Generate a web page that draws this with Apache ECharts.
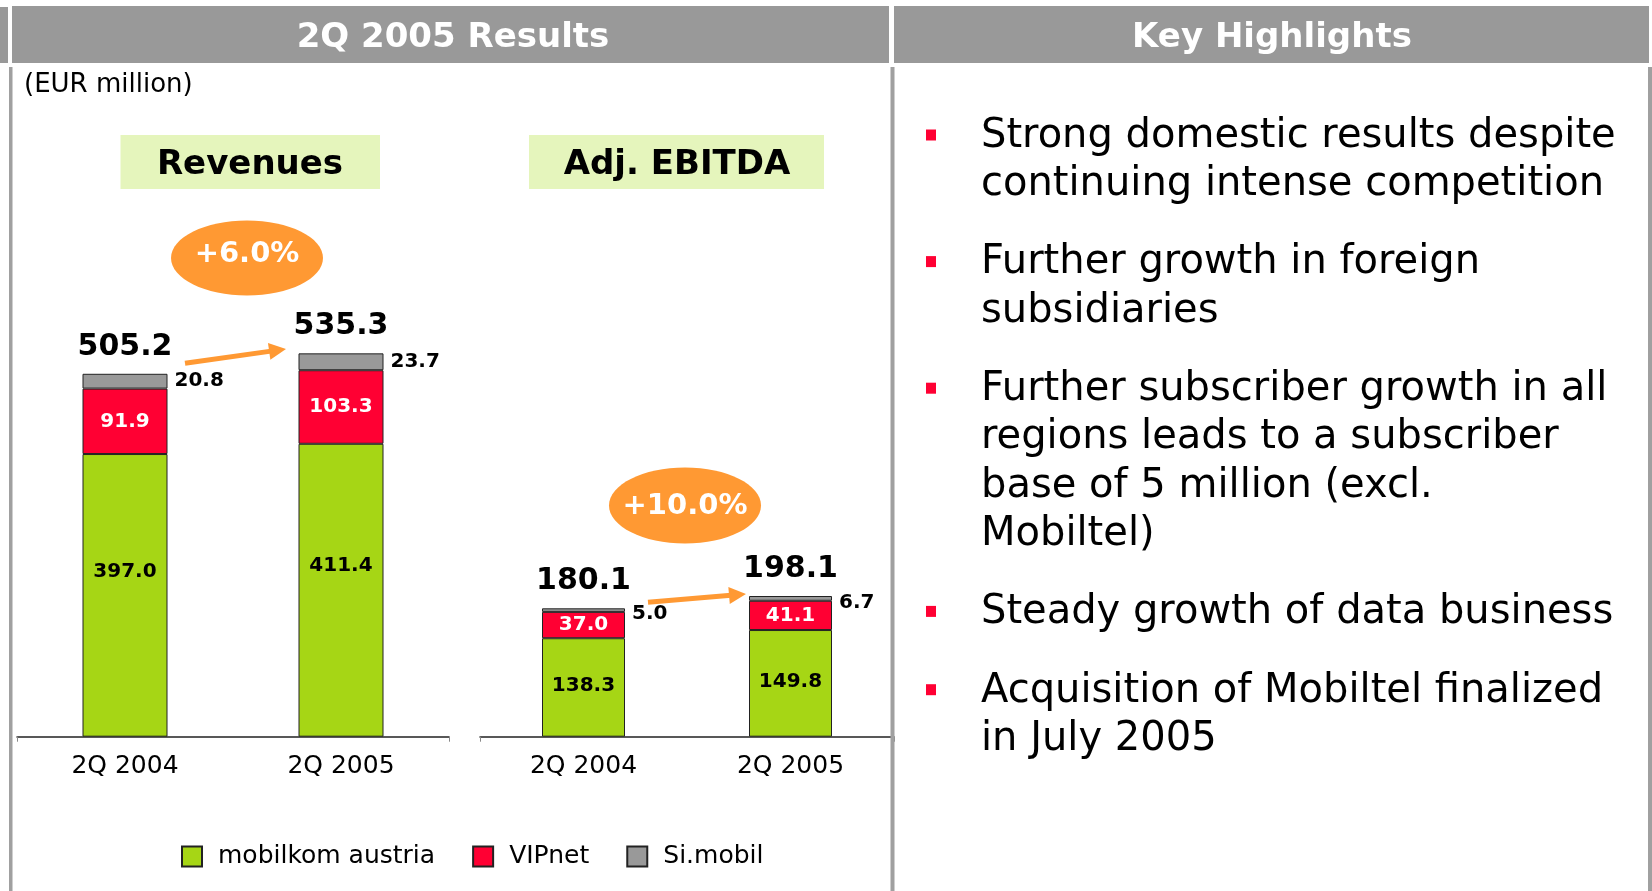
<!DOCTYPE html>
<html>
<head>
<meta charset="utf-8">
<title>2Q 2005 Results</title>
<script src="https://cdn.jsdelivr.net/npm/echarts@6/dist/echarts.min.js"></script>
<style>
  html, body { margin: 0; padding: 0; background: #fff; }
  #chart { width: 1652px; height: 891px; }
</style>
</head>
<body>
<div id="chart"></div>
<script>
// data
var quarters = ['2Q 2004', '2Q 2005']
var seriesNames = ['mobilkom austria', 'VIPnet', 'Si.mobil']

var revMobilkom = [397.0, 411.4]
var revVipnet = [91.9, 103.3]
var revSimobil = [20.8, 23.7]
var revTotal = [505.2, 535.3]

var ebitdaMobilkom = [138.3, 149.8]
var ebitdaVipnet = [37.0, 41.1]
var ebitdaSimobil = [5.0, 6.7]
var ebitdaTotal = [180.1, 198.1]

var highlights = [
  ['Strong domestic results despite', 'continuing intense competition'],
  ['Further growth in foreign', 'subsidiaries'],
  ['Further subscriber growth in all', 'regions leads to a subscriber', 'base of 5 million (excl.', 'Mobiltel)'],
  ['Steady growth of data business'],
  ['Acquisition of Mobiltel finalized', 'in July 2005']
]

var FONT = 'DejaVu Sans'
var GREEN = '#A6D615'
var RED = '#FF0033'
var GREY = '#999999'
var ORANGE = '#FF9933'

function stackTop(a, b, c) {
  return a.map(function (v, i) { return v + b[i] + c[i] })
}

function stackSeries(gridIdx, vals, names, barWidth, greenOffset, greyOffset, totals) {
  var out = []
  var colors = [GREEN, RED, GREY]
  vals.forEach(function (v, k) {
    var label
    if (k === 0) {
      label = { show: true, position: 'inside', offset: greenOffset, color: '#000', fontFamily: FONT, fontWeight: 'bold', fontSize: 20,
        formatter: function (p) { return p.value.toFixed(1) } }
    } else if (k === 1) {
      label = { show: true, position: 'inside', color: '#fff', fontFamily: FONT, fontWeight: 'bold', fontSize: 20,
        formatter: function (p) { return p.value.toFixed(1) } }
    } else {
      label = { show: true, position: 'right', distance: 7, offset: greyOffset, color: '#000', fontFamily: FONT, fontWeight: 'bold', fontSize: 20,
        formatter: function (p) { return p.value.toFixed(1) } }
    }
    out.push({
      name: names[k],
      type: 'bar',
      stack: 'g' + gridIdx,
      xAxisIndex: gridIdx,
      yAxisIndex: gridIdx,
      barWidth: barWidth,
      data: v,
      itemStyle: { color: colors[k], borderColor: '#222', borderWidth: 1 },
      label: label,
      emphasis: { disabled: true },
      silent: true
    })
  })
  // totals above the stacks
  var tops = stackTop(vals[0], vals[1], vals[2])
  out.push({
    type: 'scatter',
    xAxisIndex: gridIdx,
    yAxisIndex: gridIdx,
    symbolSize: 0,
    data: tops,
    itemStyle: { opacity: 1 },
    label: {
      show: true, position: 'top', distance: 12, color: '#000',
      fontFamily: FONT, fontWeight: 'bold', fontSize: 30,
      formatter: function (p) { return totals[p.dataIndex].toFixed(1) }
    },
    silent: true
  })
  return out
}

function arrow(x1, y1, x2, y2) {
  var dx = x2 - x1, dy = y2 - y1
  var len = Math.sqrt(dx * dx + dy * dy)
  var ux = dx / len, uy = dy / len
  var bx = x2 - ux * 17, by = y2 - uy * 17
  return [
    { type: 'line', shape: { x1: x1, y1: y1, x2: bx + ux * 2, y2: by + uy * 2 }, style: { stroke: ORANGE, lineWidth: 5 } },
    { type: 'polygon', shape: { points: [[x2, y2], [bx - uy * 8.5, by + ux * 8.5], [bx + uy * 8.5, by - ux * 8.5]] }, style: { fill: ORANGE } }
  ]
}

var chart = echarts.init(document.getElementById('chart'))

var graphics = [
  // header bars
  { type: 'rect', shape: { x: 0, y: 7, width: 8, height: 56 }, style: { fill: GREY } },
  { type: 'rect', shape: { x: 12, y: 6, width: 877, height: 57 }, style: { fill: GREY } },
  { type: 'rect', shape: { x: 894, y: 6, width: 755, height: 57 }, style: { fill: GREY } },
  { type: 'text', x: 453, y: 38, style: { text: '2Q 2005 Results', fill: '#fff', font: 'bold 34px "DejaVu Sans"', align: 'center', verticalAlign: 'middle' } },
  { type: 'text', x: 1272, y: 38, style: { text: 'Key Highlights', fill: '#fff', font: 'bold 34px "DejaVu Sans"', align: 'center', verticalAlign: 'middle' } },
  // panel borders
  { type: 'rect', z: 100, shape: { x: 9, y: 67, width: 3.5, height: 824 }, style: { fill: '#A0A0A0' } },
  { type: 'rect', z: 100, shape: { x: 890.5, y: 67, width: 4, height: 824 }, style: { fill: '#A0A0A0' } },
  { type: 'rect', z: 100, shape: { x: 1648, y: 67, width: 4, height: 824 }, style: { fill: '#A0A0A0' } },
  { type: 'text', x: 24, y: 85, style: { text: '(EUR million)', fill: '#000', font: '26px "DejaVu Sans"', align: 'left', verticalAlign: 'middle' } },
  // chart titles
  { type: 'rect', shape: { x: 120.5, y: 135, width: 259.5, height: 54 }, style: { fill: '#E5F5BC' } },
  { type: 'text', x: 250, y: 165, style: { text: 'Revenues', fill: '#000', font: 'bold 34px "DejaVu Sans"', align: 'center', verticalAlign: 'middle' } },
  { type: 'rect', shape: { x: 529, y: 135, width: 295, height: 54 }, style: { fill: '#E5F5BC' } },
  { type: 'text', x: 677, y: 165, style: { text: 'Adj. EBITDA', fill: '#000', font: 'bold 34px "DejaVu Sans"', align: 'center', verticalAlign: 'middle' } },
  // growth bubbles
  { type: 'ellipse', shape: { cx: 247, cy: 258, rx: 76, ry: 37.5 }, style: { fill: ORANGE } },
  { type: 'text', x: 247, y: 254, style: { text: '+6.0%', fill: '#fff', font: 'bold 29px "DejaVu Sans"', align: 'center', verticalAlign: 'middle' } },
  { type: 'ellipse', shape: { cx: 685, cy: 505.5, rx: 76, ry: 38 }, style: { fill: ORANGE } },
  { type: 'text', x: 685, y: 506, style: { text: '+10.0%', fill: '#fff', font: 'bold 29px "DejaVu Sans"', align: 'center', verticalAlign: 'middle' } }
]
graphics = graphics.concat(arrow(185, 363.3, 286, 349), arrow(648, 602.3, 746, 594))

// key highlights text
var baseline = 149.5
highlights.forEach(function (para, i) {
  if (i > 0) baseline += 30 + 48.3
  graphics.push({ type: 'rect', shape: { x: 926, y: baseline - 20, width: 10, height: 11 }, style: { fill: RED } })
  para.forEach(function (line, j) {
    if (j > 0) baseline += 48.3
    graphics.push({ type: 'text', x: 981, y: baseline - 13, style: { text: line, fill: '#000', font: '40px "DejaVu Sans"', align: 'left', verticalAlign: 'middle' } })
  })
})

var xAxisCommon = {
  type: 'category',
  data: quarters,
  axisLine: { lineStyle: { color: '#222', width: 1.5 } },
  axisTick: { show: true, length: 5, lineStyle: { color: '#888' },
    interval: function (i) { return i === 1 } },
  axisLabel: { color: '#000', fontFamily: FONT, fontSize: 25, margin: 17 },
  splitLine: { show: false }
}

var option = {
  backgroundColor: '#fff',
  animation: false,
  textStyle: { fontFamily: FONT },
  grid: [
    { left: 17, width: 432, top: 309.5, height: 427.2 },
    { left: 480, width: 414, top: 309.5, height: 427.2 }
  ],
  xAxis: [
    Object.assign({ gridIndex: 0 }, xAxisCommon),
    Object.assign({ gridIndex: 1 }, xAxisCommon)
  ],
  yAxis: [
    { gridIndex: 0, type: 'value', min: 0, max: 600, show: false },
    { gridIndex: 1, type: 'value', min: 0, max: 600, show: false }
  ],
  legend: {
    left: 176,
    top: 839,
    icon: 'rect',
    itemWidth: 20,
    itemHeight: 20,
    itemGap: 37,
    data: seriesNames,
    textStyle: { color: '#000', fontFamily: FONT, fontSize: 25, padding: [0, 0, 0, 11] },
    selectedMode: false
  },
  series: [].concat(
    stackSeries(0, [revMobilkom, revVipnet, revSimobil], seriesNames, 85, [0, -24], [0, 0], revTotal),
    stackSeries(1, [ebitdaMobilkom, ebitdaVipnet, ebitdaSimobil], seriesNames, 83, [0, -2], [0, 4], ebitdaTotal)
  ),
  graphic: graphics
}

chart.setOption(option)
</script>
</body>
</html>
